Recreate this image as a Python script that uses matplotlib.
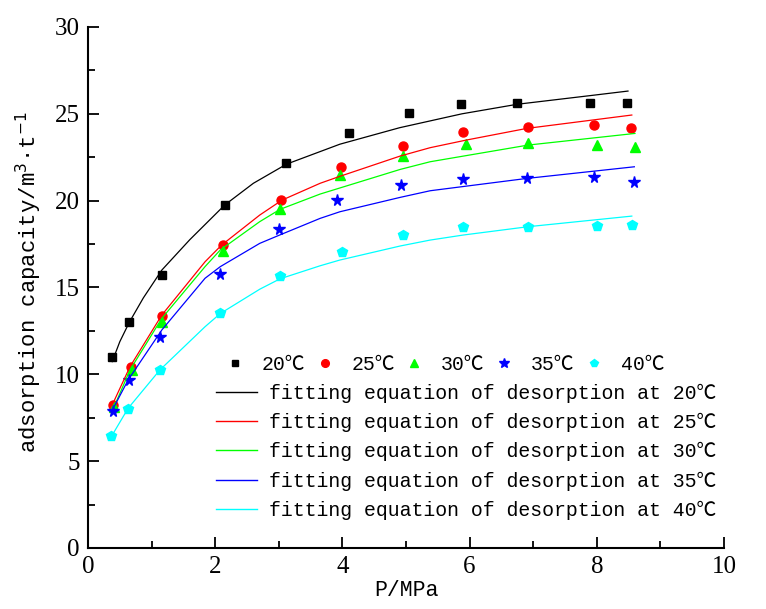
import numpy as np
import matplotlib
matplotlib.use("Agg")
import matplotlib.pyplot as plt
from matplotlib.ticker import MultipleLocator
from matplotlib.lines import Line2D

# measured desorption points, P in MPa, V in m3/t
P_20 = [0.38, 0.65, 1.16, 2.15, 3.12, 4.11, 5.04, 5.87, 6.75, 7.90, 8.48]
V_20 = [10.98, 13.01, 15.72, 19.73, 22.15, 23.87, 25.02, 25.54, 25.6, 25.6, 25.6]
P_25 = [0.40, 0.67, 1.16, 2.12, 3.04, 3.98, 4.96, 5.89, 6.92, 7.96, 8.54]
V_25 = [8.23, 10.4, 13.36, 17.44, 20.03, 21.92, 23.16, 23.97, 24.26, 24.38, 24.18]
P_30 = [0.41, 0.69, 1.17, 2.12, 3.02, 3.96, 4.96, 5.94, 6.92, 8.0, 8.6]
V_30 = [8.1, 10.25, 13.03, 17.12, 19.5, 21.5, 22.55, 23.26, 23.3, 23.2, 23.1]
P_35 = [0.39, 0.65, 1.13, 2.07, 3.0, 3.92, 4.92, 5.90, 6.9, 7.95, 8.58]
V_35 = [7.9, 9.67, 12.17, 15.8, 18.35, 20.03, 20.9, 21.24, 21.32, 21.34, 21.1]
P_40 = [0.36, 0.63, 1.13, 2.08, 3.02, 4.0, 4.96, 5.9, 6.92, 8.0, 8.55]
V_40 = [6.47, 7.98, 10.25, 13.51, 15.68, 17.04, 18.0, 18.5, 18.5, 18.56, 18.58]

# fitted curves (sampled)
fitP_20 = [0.38, 0.5, 0.65, 0.87, 1.16, 1.6, 2.15, 2.6, 3.12, 3.96, 4.9, 5.88, 6.75, 7.9, 8.49]
fitV_20 = [10.73, 11.88, 13.0, 14.4, 16.0, 17.75, 19.75, 21.0, 22.1, 23.25, 24.2, 25.0, 25.55, 26.05, 26.31]
fitP_25 = [0.38, 0.66, 1.16, 1.84, 2.1, 2.7, 3.05, 3.65, 3.96, 4.91, 5.38, 5.95, 6.9, 8.55]
fitV_25 = [8.23, 10.44, 13.41, 16.48, 17.44, 19.17, 20.03, 21.0, 21.4, 22.57, 23.05, 23.49, 24.16, 24.93]
fitP_30 = [0.40, 0.66, 1.16, 1.84, 2.08, 2.7, 3.02, 3.65, 4.91, 5.38, 6.92, 8.6]
fitV_30 = [8.04, 10.25, 13.22, 16.2, 17.16, 18.79, 19.5, 20.38, 21.8, 22.24, 23.2, 23.87]
fitP_35 = [0.37, 0.63, 1.16, 1.84, 2.08, 2.7, 3.0, 3.65, 3.96, 4.91, 5.38, 6.9, 8.59]
fitV_35 = [7.85, 9.67, 12.55, 15.53, 16.2, 17.54, 18.0, 18.98, 19.36, 20.19, 20.57, 21.28, 21.95]
fitP_40 = [0.35, 0.63, 1.13, 1.84, 2.08, 2.7, 3.02, 3.65, 3.96, 4.91, 5.38, 5.9, 6.92, 8.55]
fitV_40 = [6.31, 8.04, 10.25, 12.74, 13.5, 14.9, 15.5, 16.25, 16.58, 17.39, 17.73, 18.02, 18.5, 19.11]

temps = ["20℃", "25℃", "30℃", "35℃", "40℃"]
colors = ["black", "red", "#00ff00", "blue", "cyan"]
markers = ["s", "o", "^", "*", "p"]
msizes = [5.5, 6.5, 7, 8.5, 7]

points = [(P_20, V_20), (P_25, V_25), (P_30, V_30), (P_35, V_35), (P_40, V_40)]
fits = [(fitP_20, fitV_20), (fitP_25, fitV_25), (fitP_30, fitV_30),
        (fitP_35, fitV_35), (fitP_40, fitV_40)]

mono = ["Liberation Mono", "Noto Sans CJK SC"]

fig = plt.figure(figsize=(7.66, 6.09), dpi=100)
ax = fig.add_axes([0.1149, 0.1002, 0.8303, 0.8555])

for (p, v), c, m, ms in zip(points, colors, markers, msizes):
    ax.plot(p, v, linestyle="none", marker=m, color=c, markersize=ms)
for (p, v), c in zip(fits, colors):
    ax.plot(p, v, color=c, linewidth=0.9)

ax.set_xlim(0, 10)
ax.set_ylim(0, 30)
ax.xaxis.set_major_locator(MultipleLocator(2))
ax.xaxis.set_minor_locator(MultipleLocator(1))
ax.yaxis.set_major_locator(MultipleLocator(5))
ax.yaxis.set_minor_locator(MultipleLocator(2.5))
ax.spines["top"].set_visible(False)
ax.spines["right"].set_visible(False)
for s in ["left", "bottom"]:
    ax.spines[s].set_linewidth(1.5)
ax.tick_params(which="major", direction="in", length=8, width=1.3, pad=6)
ax.tick_params(which="minor", direction="in", length=5, width=1.3)
for lab in ax.get_xticklabels() + ax.get_yticklabels():
    lab.set_fontfamily("Liberation Serif")
    lab.set_fontsize(18)

ax.set_xlabel("P/MPa", family=mono, fontsize=15.5, labelpad=1)
ax.set_ylabel("adsorption capacity/m$^3$·t$^{-1}$", family="Liberation Mono",
              fontsize=16)
ax.yaxis.set_label_coords(-0.069, 0.51)

# legend: one row of markers, then the fitted lines below
h1 = [Line2D([], [], linestyle="none", marker=m, color=c, markersize=ms * 0.85)
      for c, m, ms in zip(colors, markers, msizes)]
leg1 = ax.legend(h1, temps, ncol=5, frameon=False, loc="upper left",
                 bbox_to_anchor=(0.2154, 0.3705), borderaxespad=0, borderpad=0,
                 handlelength=1.0, handletextpad=0.85, columnspacing=0.47,
                 prop={"family": mono, "size": 14.3})
ax.add_artist(leg1)
h2 = [Line2D([], [], color=c, linewidth=1.0) for c in colors]
labels2 = ["fitting equation of desorption at " + t for t in temps]
ax.legend(h2, labels2, frameon=False, loc="upper left",
          bbox_to_anchor=(0.2013, 0.3148), borderaxespad=0, borderpad=0,
          handlelength=2.07, handletextpad=0.6, labelspacing=0.5,
          prop={"family": mono, "size": 14.3})

fig.savefig("out.png", dpi=100)
